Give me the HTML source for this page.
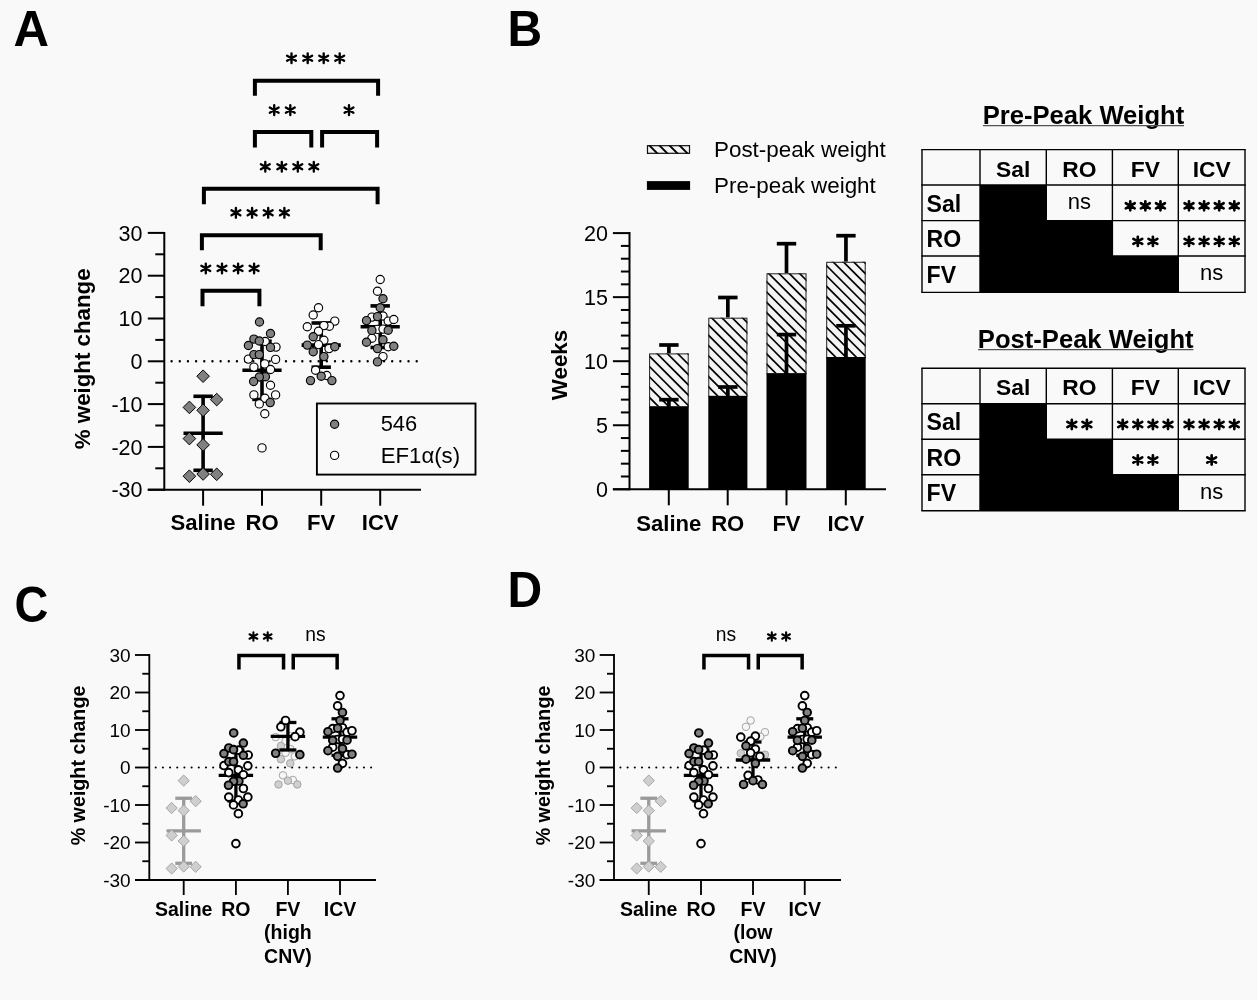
<!DOCTYPE html>
<html><head><meta charset="utf-8"><title>Figure</title>
<style>html,body{margin:0;padding:0;background:#f9f9f9;}svg{display:block;will-change:transform;}text{font-family:"Liberation Sans", sans-serif;fill:#000;}</style></head><body>
<svg width="1257" height="1000" viewBox="0 0 1257 1000">
<rect width="1257" height="1000" fill="#f9f9f9"/>
<text x="13.6" y="45.8" font-size="49.2" font-weight="bold" text-anchor="start" >A</text>
<text transform="translate(507.6 45.8) scale(0.955 1)" font-size="50.3" font-weight="bold">B</text>
<text transform="translate(14.5 621.5) scale(0.945 1)" font-size="49.6" font-weight="bold">C</text>
<text transform="translate(507.6 607.2) scale(0.955 1)" font-size="50.3" font-weight="bold">D</text>
<g id="panelA">
<line x1="164.3" y1="231.9" x2="164.3" y2="490.7" stroke="#000" stroke-width="2" />
<line x1="147.8" y1="489.7" x2="164.3" y2="489.7" stroke="#000" stroke-width="2" />
<text x="142.5" y="497.4" font-size="21.5" font-weight="normal" text-anchor="end" >-30</text>
<line x1="155.3" y1="468.3" x2="164.3" y2="468.3" stroke="#000" stroke-width="2" />
<line x1="147.8" y1="446.9" x2="164.3" y2="446.9" stroke="#000" stroke-width="2" />
<text x="142.5" y="454.6" font-size="21.5" font-weight="normal" text-anchor="end" >-20</text>
<line x1="155.3" y1="425.5" x2="164.3" y2="425.5" stroke="#000" stroke-width="2" />
<line x1="147.8" y1="404.1" x2="164.3" y2="404.1" stroke="#000" stroke-width="2" />
<text x="142.5" y="411.8" font-size="21.5" font-weight="normal" text-anchor="end" >-10</text>
<line x1="155.3" y1="382.7" x2="164.3" y2="382.7" stroke="#000" stroke-width="2" />
<line x1="147.8" y1="361.3" x2="164.3" y2="361.3" stroke="#000" stroke-width="2" />
<text x="142.5" y="369" font-size="21.5" font-weight="normal" text-anchor="end" >0</text>
<line x1="155.3" y1="339.9" x2="164.3" y2="339.9" stroke="#000" stroke-width="2" />
<line x1="147.8" y1="318.5" x2="164.3" y2="318.5" stroke="#000" stroke-width="2" />
<text x="142.5" y="326.2" font-size="21.5" font-weight="normal" text-anchor="end" >10</text>
<line x1="155.3" y1="297.1" x2="164.3" y2="297.1" stroke="#000" stroke-width="2" />
<line x1="147.8" y1="275.7" x2="164.3" y2="275.7" stroke="#000" stroke-width="2" />
<text x="142.5" y="283.4" font-size="21.5" font-weight="normal" text-anchor="end" >20</text>
<line x1="155.3" y1="254.3" x2="164.3" y2="254.3" stroke="#000" stroke-width="2" />
<line x1="147.8" y1="232.9" x2="164.3" y2="232.9" stroke="#000" stroke-width="2" />
<text x="142.5" y="240.6" font-size="21.5" font-weight="normal" text-anchor="end" >30</text>
<line x1="147.8" y1="489.7" x2="421" y2="489.7" stroke="#000" stroke-width="2" />
<line x1="203.1" y1="489.7" x2="203.1" y2="505.7" stroke="#000" stroke-width="2" />
<line x1="262" y1="489.7" x2="262" y2="505.7" stroke="#000" stroke-width="2" />
<line x1="321.2" y1="489.7" x2="321.2" y2="505.7" stroke="#000" stroke-width="2" />
<line x1="380.2" y1="489.7" x2="380.2" y2="505.7" stroke="#000" stroke-width="2" />
<line x1="171.6" y1="361.3" x2="421" y2="361.3" stroke="#000" stroke-width="2.4" stroke-dasharray="0 8.17" stroke-linecap="round"/>
<text transform="translate(89.6 358.8) rotate(-90)" font-size="22.3" font-weight="bold" text-anchor="middle">% weight change</text>
<text x="203.1" y="530" font-size="22.1" font-weight="bold" text-anchor="middle" >Saline</text>
<text x="262" y="530" font-size="22.1" font-weight="bold" text-anchor="middle" >RO</text>
<text x="321.2" y="530" font-size="22.1" font-weight="bold" text-anchor="middle" >FV</text>
<text x="380.2" y="530" font-size="22.1" font-weight="bold" text-anchor="middle" >ICV</text>
<line x1="203.1" y1="396.3" x2="203.1" y2="470.3" stroke="#000" stroke-width="3.6" />
<line x1="193.4" y1="396.3" x2="212.8" y2="396.3" stroke="#000" stroke-width="3.6" />
<line x1="193.4" y1="470.3" x2="212.8" y2="470.3" stroke="#000" stroke-width="3.6" />
<line x1="183.5" y1="433.3" x2="222.7" y2="433.3" stroke="#000" stroke-width="3.6" />
<line x1="262" y1="341.2" x2="262" y2="399.4" stroke="#000" stroke-width="3.6" />
<line x1="252.3" y1="341.2" x2="271.7" y2="341.2" stroke="#000" stroke-width="3.6" />
<line x1="252.3" y1="399.4" x2="271.7" y2="399.4" stroke="#000" stroke-width="3.6" />
<line x1="242.4" y1="370.3" x2="281.6" y2="370.3" stroke="#000" stroke-width="3.6" />
<line x1="321.2" y1="323" x2="321.2" y2="367.2" stroke="#000" stroke-width="3.6" />
<line x1="311.5" y1="323" x2="330.9" y2="323" stroke="#000" stroke-width="3.6" />
<line x1="311.5" y1="367.2" x2="330.9" y2="367.2" stroke="#000" stroke-width="3.6" />
<line x1="301.6" y1="345.1" x2="340.8" y2="345.1" stroke="#000" stroke-width="3.6" />
<line x1="380.2" y1="305.9" x2="380.2" y2="347.5" stroke="#000" stroke-width="3.6" />
<line x1="370.5" y1="305.9" x2="389.9" y2="305.9" stroke="#000" stroke-width="3.6" />
<line x1="370.5" y1="347.5" x2="389.9" y2="347.5" stroke="#000" stroke-width="3.6" />
<line x1="360.6" y1="326.7" x2="399.8" y2="326.7" stroke="#000" stroke-width="3.6" />
<path d="M203.1 369.9L209.4 376.2L203.1 382.5L196.8 376.2Z" fill="#808080" stroke="#000" stroke-width="1"/>
<path d="M216.7 393.3L223 399.6L216.7 405.9L210.4 399.6Z" fill="#808080" stroke="#000" stroke-width="1"/>
<path d="M189.4 401.1L195.7 407.4L189.4 413.7L183.1 407.4Z" fill="#808080" stroke="#000" stroke-width="1"/>
<path d="M203.1 404L209.4 410.3L203.1 416.6L196.8 410.3Z" fill="#808080" stroke="#000" stroke-width="1"/>
<path d="M189.4 432.3L195.7 438.6L189.4 444.9L183.1 438.6Z" fill="#808080" stroke="#000" stroke-width="1"/>
<path d="M203.1 438.6L209.4 444.9L203.1 451.2L196.8 444.9Z" fill="#808080" stroke="#000" stroke-width="1"/>
<path d="M189.4 469.9L195.7 476.2L189.4 482.5L183.1 476.2Z" fill="#808080" stroke="#000" stroke-width="1"/>
<path d="M203.1 467.7L209.4 474L203.1 480.3L196.8 474Z" fill="#808080" stroke="#000" stroke-width="1"/>
<path d="M216.7 468L223 474.3L216.7 480.6L210.4 474.3Z" fill="#808080" stroke="#000" stroke-width="1"/>
<circle cx="265.2" cy="341.5" r="4.12" fill="#fcfcfc" stroke="#000" stroke-width="1.15"/>
<circle cx="276" cy="347.1" r="4.12" fill="#fcfcfc" stroke="#000" stroke-width="1.15"/>
<circle cx="248.4" cy="359.1" r="4.12" fill="#fcfcfc" stroke="#000" stroke-width="1.15"/>
<circle cx="275.6" cy="359.4" r="4.12" fill="#fcfcfc" stroke="#000" stroke-width="1.15"/>
<circle cx="264.8" cy="363.9" r="4.12" fill="#fcfcfc" stroke="#000" stroke-width="1.15"/>
<circle cx="253.9" cy="367.1" r="4.12" fill="#fcfcfc" stroke="#000" stroke-width="1.15"/>
<circle cx="270.5" cy="369.5" r="4.12" fill="#fcfcfc" stroke="#000" stroke-width="1.15"/>
<circle cx="270.5" cy="385.2" r="4.12" fill="#fcfcfc" stroke="#000" stroke-width="1.15"/>
<circle cx="253.9" cy="394.9" r="4.12" fill="#fcfcfc" stroke="#000" stroke-width="1.15"/>
<circle cx="275.6" cy="394.9" r="4.12" fill="#fcfcfc" stroke="#000" stroke-width="1.15"/>
<circle cx="264.9" cy="398.3" r="4.12" fill="#fcfcfc" stroke="#000" stroke-width="1.15"/>
<circle cx="259.3" cy="403.9" r="4.12" fill="#fcfcfc" stroke="#000" stroke-width="1.15"/>
<circle cx="264.8" cy="413.8" r="4.12" fill="#fcfcfc" stroke="#000" stroke-width="1.15"/>
<circle cx="262" cy="447.9" r="4.12" fill="#fcfcfc" stroke="#000" stroke-width="1.15"/>
<circle cx="259.5" cy="322" r="4.12" fill="#808080" stroke="#000" stroke-width="1.15"/>
<circle cx="270.5" cy="333.5" r="4.12" fill="#808080" stroke="#000" stroke-width="1.15"/>
<circle cx="253.9" cy="339.1" r="4.12" fill="#808080" stroke="#000" stroke-width="1.15"/>
<circle cx="259.3" cy="341" r="4.12" fill="#808080" stroke="#000" stroke-width="1.15"/>
<circle cx="248.4" cy="345.5" r="4.12" fill="#808080" stroke="#000" stroke-width="1.15"/>
<circle cx="270.5" cy="347.4" r="4.12" fill="#808080" stroke="#000" stroke-width="1.15"/>
<circle cx="253.9" cy="354.6" r="4.12" fill="#808080" stroke="#000" stroke-width="1.15"/>
<circle cx="259.3" cy="354.6" r="4.12" fill="#808080" stroke="#000" stroke-width="1.15"/>
<circle cx="265.4" cy="376.7" r="4.12" fill="#808080" stroke="#000" stroke-width="1.15"/>
<circle cx="259.3" cy="377" r="4.12" fill="#808080" stroke="#000" stroke-width="1.15"/>
<circle cx="253.6" cy="381.5" r="4.12" fill="#808080" stroke="#000" stroke-width="1.15"/>
<circle cx="270.2" cy="402.6" r="4.12" fill="#808080" stroke="#000" stroke-width="1.15"/>
<circle cx="318.5" cy="307.8" r="4.12" fill="#fcfcfc" stroke="#000" stroke-width="1.15"/>
<circle cx="313.2" cy="315" r="4.12" fill="#fcfcfc" stroke="#000" stroke-width="1.15"/>
<circle cx="334.8" cy="321.1" r="4.12" fill="#fcfcfc" stroke="#000" stroke-width="1.15"/>
<circle cx="307.3" cy="326.7" r="4.12" fill="#fcfcfc" stroke="#000" stroke-width="1.15"/>
<circle cx="329.4" cy="326.2" r="4.12" fill="#fcfcfc" stroke="#000" stroke-width="1.15"/>
<circle cx="323.9" cy="325.6" r="4.12" fill="#fcfcfc" stroke="#000" stroke-width="1.15"/>
<circle cx="318.5" cy="331.2" r="4.12" fill="#fcfcfc" stroke="#000" stroke-width="1.15"/>
<circle cx="323.9" cy="340.3" r="4.12" fill="#fcfcfc" stroke="#000" stroke-width="1.15"/>
<circle cx="318.5" cy="344.6" r="4.12" fill="#fcfcfc" stroke="#000" stroke-width="1.15"/>
<circle cx="329" cy="348.6" r="4.12" fill="#fcfcfc" stroke="#000" stroke-width="1.15"/>
<circle cx="315.6" cy="370.2" r="4.12" fill="#fcfcfc" stroke="#000" stroke-width="1.15"/>
<circle cx="326.8" cy="375.5" r="4.12" fill="#fcfcfc" stroke="#000" stroke-width="1.15"/>
<circle cx="313.2" cy="336.8" r="4.12" fill="#808080" stroke="#000" stroke-width="1.15"/>
<circle cx="307.3" cy="345.1" r="4.12" fill="#808080" stroke="#000" stroke-width="1.15"/>
<circle cx="334.8" cy="346.7" r="4.12" fill="#808080" stroke="#000" stroke-width="1.15"/>
<circle cx="313.2" cy="351.8" r="4.12" fill="#808080" stroke="#000" stroke-width="1.15"/>
<circle cx="323.9" cy="356.6" r="4.12" fill="#808080" stroke="#000" stroke-width="1.15"/>
<circle cx="321.2" cy="376.3" r="4.12" fill="#808080" stroke="#000" stroke-width="1.15"/>
<circle cx="310.5" cy="380.6" r="4.12" fill="#808080" stroke="#000" stroke-width="1.15"/>
<circle cx="331.9" cy="380.6" r="4.12" fill="#808080" stroke="#000" stroke-width="1.15"/>
<circle cx="380.2" cy="279.5" r="4.12" fill="#fcfcfc" stroke="#000" stroke-width="1.15"/>
<circle cx="377.5" cy="291.2" r="4.12" fill="#fcfcfc" stroke="#000" stroke-width="1.15"/>
<circle cx="371.9" cy="317.1" r="4.12" fill="#fcfcfc" stroke="#000" stroke-width="1.15"/>
<circle cx="383" cy="316" r="4.12" fill="#fcfcfc" stroke="#000" stroke-width="1.15"/>
<circle cx="388.2" cy="321.1" r="4.12" fill="#fcfcfc" stroke="#000" stroke-width="1.15"/>
<circle cx="393.8" cy="319.5" r="4.12" fill="#fcfcfc" stroke="#000" stroke-width="1.15"/>
<circle cx="377.5" cy="329.4" r="4.12" fill="#fcfcfc" stroke="#000" stroke-width="1.15"/>
<circle cx="383" cy="329.1" r="4.12" fill="#fcfcfc" stroke="#000" stroke-width="1.15"/>
<circle cx="371.9" cy="338.2" r="4.12" fill="#fcfcfc" stroke="#000" stroke-width="1.15"/>
<circle cx="388.2" cy="346.7" r="4.12" fill="#fcfcfc" stroke="#000" stroke-width="1.15"/>
<circle cx="383" cy="356.6" r="4.12" fill="#fcfcfc" stroke="#000" stroke-width="1.15"/>
<circle cx="383" cy="298.7" r="4.12" fill="#808080" stroke="#000" stroke-width="1.15"/>
<circle cx="380.2" cy="307.8" r="4.12" fill="#808080" stroke="#000" stroke-width="1.15"/>
<circle cx="377.5" cy="316.6" r="4.12" fill="#808080" stroke="#000" stroke-width="1.15"/>
<circle cx="366.5" cy="320.6" r="4.12" fill="#808080" stroke="#000" stroke-width="1.15"/>
<circle cx="371.9" cy="330.4" r="4.12" fill="#808080" stroke="#000" stroke-width="1.15"/>
<circle cx="388.2" cy="330.2" r="4.12" fill="#808080" stroke="#000" stroke-width="1.15"/>
<circle cx="383" cy="339.8" r="4.12" fill="#808080" stroke="#000" stroke-width="1.15"/>
<circle cx="366.5" cy="342.2" r="4.12" fill="#808080" stroke="#000" stroke-width="1.15"/>
<circle cx="393.8" cy="346.2" r="4.12" fill="#808080" stroke="#000" stroke-width="1.15"/>
<circle cx="377.5" cy="348.6" r="4.12" fill="#808080" stroke="#000" stroke-width="1.15"/>
<circle cx="377.5" cy="361.9" r="4.12" fill="#808080" stroke="#000" stroke-width="1.15"/>
<path d="M291.5 53.35V63.05M287.08 55.65L295.92 60.75M295.92 55.65L287.08 60.75" stroke="#000" stroke-width="2.35" stroke-linecap="round" fill="none"/>
<path d="M307.7 53.35V63.05M303.28 55.65L312.12 60.75M312.12 55.65L303.28 60.75" stroke="#000" stroke-width="2.35" stroke-linecap="round" fill="none"/>
<path d="M323.7 53.35V63.05M319.28 55.65L328.12 60.75M328.12 55.65L319.28 60.75" stroke="#000" stroke-width="2.35" stroke-linecap="round" fill="none"/>
<path d="M339.7 53.35V63.05M335.28 55.65L344.12 60.75M344.12 55.65L335.28 60.75" stroke="#000" stroke-width="2.35" stroke-linecap="round" fill="none"/>
<path d="M254.9 95.8V80.8H378.1V95.8" stroke="#000" stroke-width="4" fill="none" stroke-linejoin="miter"/>
<path d="M274.2 105.25V114.95M269.78 107.55L278.62 112.65M278.62 107.55L269.78 112.65" stroke="#000" stroke-width="2.35" stroke-linecap="round" fill="none"/>
<path d="M290.3 105.25V114.95M285.88 107.55L294.72 112.65M294.72 107.55L285.88 112.65" stroke="#000" stroke-width="2.35" stroke-linecap="round" fill="none"/>
<path d="M349 105.25V114.95M344.58 107.55L353.42 112.65M353.42 107.55L344.58 112.65" stroke="#000" stroke-width="2.35" stroke-linecap="round" fill="none"/>
<path d="M254.9 147.5V132.1H311.3V147.5" stroke="#000" stroke-width="4" fill="none" stroke-linejoin="miter"/>
<path d="M322.1 147.5V132.1H377.1V147.5" stroke="#000" stroke-width="4" fill="none" stroke-linejoin="miter"/>
<path d="M265.3 161.85V171.55M260.88 164.15L269.72 169.25M269.72 164.15L260.88 169.25" stroke="#000" stroke-width="2.35" stroke-linecap="round" fill="none"/>
<path d="M281.8 161.85V171.55M277.38 164.15L286.22 169.25M286.22 164.15L277.38 169.25" stroke="#000" stroke-width="2.35" stroke-linecap="round" fill="none"/>
<path d="M297.8 161.85V171.55M293.38 164.15L302.22 169.25M302.22 164.15L293.38 169.25" stroke="#000" stroke-width="2.35" stroke-linecap="round" fill="none"/>
<path d="M313.8 161.85V171.55M309.38 164.15L318.22 169.25M318.22 164.15L309.38 169.25" stroke="#000" stroke-width="2.35" stroke-linecap="round" fill="none"/>
<path d="M203.9 204.3V188.8H377.6V204.3" stroke="#000" stroke-width="4" fill="none" stroke-linejoin="miter"/>
<path d="M235.9 207.95V217.65M231.48 210.25L240.32 215.35M240.32 210.25L231.48 215.35" stroke="#000" stroke-width="2.35" stroke-linecap="round" fill="none"/>
<path d="M252.1 207.95V217.65M247.68 210.25L256.52 215.35M256.52 210.25L247.68 215.35" stroke="#000" stroke-width="2.35" stroke-linecap="round" fill="none"/>
<path d="M268.2 207.95V217.65M263.78 210.25L272.62 215.35M272.62 210.25L263.78 215.35" stroke="#000" stroke-width="2.35" stroke-linecap="round" fill="none"/>
<path d="M284.4 207.95V217.65M279.98 210.25L288.82 215.35M288.82 210.25L279.98 215.35" stroke="#000" stroke-width="2.35" stroke-linecap="round" fill="none"/>
<path d="M201.9 250.2V235.2H320.7V250.2" stroke="#000" stroke-width="4" fill="none" stroke-linejoin="miter"/>
<path d="M205.8 263.55V273.25M201.38 265.85L210.22 270.95M210.22 265.85L201.38 270.95" stroke="#000" stroke-width="2.35" stroke-linecap="round" fill="none"/>
<path d="M222 263.55V273.25M217.58 265.85L226.42 270.95M226.42 265.85L217.58 270.95" stroke="#000" stroke-width="2.35" stroke-linecap="round" fill="none"/>
<path d="M238.1 263.55V273.25M233.68 265.85L242.52 270.95M242.52 265.85L233.68 270.95" stroke="#000" stroke-width="2.35" stroke-linecap="round" fill="none"/>
<path d="M254.1 263.55V273.25M249.68 265.85L258.52 270.95M258.52 265.85L249.68 270.95" stroke="#000" stroke-width="2.35" stroke-linecap="round" fill="none"/>
<path d="M202.5 306.2V290.8H259.4V306.2" stroke="#000" stroke-width="4" fill="none" stroke-linejoin="miter"/>
<rect x="316.9" y="403.5" width="158.6" height="71.1" fill="#f9f9f9" stroke="#000" stroke-width="1.9"/>
<circle cx="334.6" cy="424.2" r="4.12" fill="#808080" stroke="#000" stroke-width="1.15"/>
<circle cx="334.6" cy="455.4" r="4.12" fill="#fcfcfc" stroke="#000" stroke-width="1.15"/>
<text x="380.7" y="431.1" font-size="21.9" font-weight="normal" text-anchor="start" >546</text>
<text x="380.7" y="462.6" font-size="22.2" font-weight="normal" text-anchor="start" >EF1α(s)</text>
</g>
<g id="panelB">
<defs>
<clipPath id="cb0"><rect x="649.1" y="353.4" width="39.6" height="53"/></clipPath>
<clipPath id="cb1"><rect x="708.3" y="317.7" width="39.1" height="78.2"/></clipPath>
<clipPath id="cb2"><rect x="766.5" y="273.3" width="40" height="100"/></clipPath>
<clipPath id="cb3"><rect x="826.2" y="261.8" width="39.5" height="95.2"/></clipPath>
<clipPath id="cbl"><rect x="646.9" y="145.1" width="43.2" height="8.8"/></clipPath>
</defs>
<line x1="629.5" y1="232.1" x2="629.5" y2="490.3" stroke="#000" stroke-width="2" />
<line x1="612.9" y1="489.3" x2="629.5" y2="489.3" stroke="#000" stroke-width="2" />
<text x="607.9" y="497" font-size="21.5" font-weight="normal" text-anchor="end" >0</text>
<line x1="620.9" y1="476.49" x2="629.5" y2="476.49" stroke="#000" stroke-width="2" />
<line x1="620.9" y1="463.68" x2="629.5" y2="463.68" stroke="#000" stroke-width="2" />
<line x1="620.9" y1="450.87" x2="629.5" y2="450.87" stroke="#000" stroke-width="2" />
<line x1="620.9" y1="438.06" x2="629.5" y2="438.06" stroke="#000" stroke-width="2" />
<line x1="612.9" y1="425.25" x2="629.5" y2="425.25" stroke="#000" stroke-width="2" />
<text x="607.9" y="432.95" font-size="21.5" font-weight="normal" text-anchor="end" >5</text>
<line x1="620.9" y1="412.44" x2="629.5" y2="412.44" stroke="#000" stroke-width="2" />
<line x1="620.9" y1="399.63" x2="629.5" y2="399.63" stroke="#000" stroke-width="2" />
<line x1="620.9" y1="386.82" x2="629.5" y2="386.82" stroke="#000" stroke-width="2" />
<line x1="620.9" y1="374.01" x2="629.5" y2="374.01" stroke="#000" stroke-width="2" />
<line x1="612.9" y1="361.2" x2="629.5" y2="361.2" stroke="#000" stroke-width="2" />
<text x="607.9" y="368.9" font-size="21.5" font-weight="normal" text-anchor="end" >10</text>
<line x1="620.9" y1="348.39" x2="629.5" y2="348.39" stroke="#000" stroke-width="2" />
<line x1="620.9" y1="335.58" x2="629.5" y2="335.58" stroke="#000" stroke-width="2" />
<line x1="620.9" y1="322.77" x2="629.5" y2="322.77" stroke="#000" stroke-width="2" />
<line x1="620.9" y1="309.96" x2="629.5" y2="309.96" stroke="#000" stroke-width="2" />
<line x1="612.9" y1="297.15" x2="629.5" y2="297.15" stroke="#000" stroke-width="2" />
<text x="607.9" y="304.85" font-size="21.5" font-weight="normal" text-anchor="end" >15</text>
<line x1="620.9" y1="284.34" x2="629.5" y2="284.34" stroke="#000" stroke-width="2" />
<line x1="620.9" y1="271.53" x2="629.5" y2="271.53" stroke="#000" stroke-width="2" />
<line x1="620.9" y1="258.72" x2="629.5" y2="258.72" stroke="#000" stroke-width="2" />
<line x1="620.9" y1="245.91" x2="629.5" y2="245.91" stroke="#000" stroke-width="2" />
<line x1="612.9" y1="233.1" x2="629.5" y2="233.1" stroke="#000" stroke-width="2" />
<text x="607.9" y="240.8" font-size="21.5" font-weight="normal" text-anchor="end" >20</text>
<line x1="612.9" y1="489.3" x2="886" y2="489.3" stroke="#000" stroke-width="2" />
<line x1="668.8" y1="489.3" x2="668.8" y2="505.3" stroke="#000" stroke-width="2" />
<line x1="727.7" y1="489.3" x2="727.7" y2="505.3" stroke="#000" stroke-width="2" />
<line x1="786.5" y1="489.3" x2="786.5" y2="505.3" stroke="#000" stroke-width="2" />
<line x1="845.8" y1="489.3" x2="845.8" y2="505.3" stroke="#000" stroke-width="2" />
<text x="668.8" y="530.8" font-size="22.1" font-weight="bold" text-anchor="middle" >Saline</text>
<text x="727.7" y="530.8" font-size="22.1" font-weight="bold" text-anchor="middle" >RO</text>
<text x="786.5" y="530.8" font-size="22.1" font-weight="bold" text-anchor="middle" >FV</text>
<text x="845.8" y="530.8" font-size="22.1" font-weight="bold" text-anchor="middle" >ICV</text>
<text transform="translate(567 365) rotate(-90)" font-size="22.3" font-weight="bold" text-anchor="middle">Weeks</text>
<line x1="668.9" y1="345" x2="668.9" y2="353.4" stroke="#000" stroke-width="3.7" />
<line x1="659.2" y1="345" x2="678.6" y2="345" stroke="#000" stroke-width="3.7" />
<rect x="649.1" y="353.4" width="39.6" height="53" fill="#f4f4f4"/>
<g clip-path="url(#cb0)">
<line x1="647.1" y1="477.5" x2="690.7" y2="521.1" stroke="#000" stroke-width="1.7" />
<line x1="647.1" y1="467.2" x2="690.7" y2="510.8" stroke="#000" stroke-width="1.7" />
<line x1="647.1" y1="456.9" x2="690.7" y2="500.5" stroke="#000" stroke-width="1.7" />
<line x1="647.1" y1="446.6" x2="690.7" y2="490.2" stroke="#000" stroke-width="1.7" />
<line x1="647.1" y1="436.3" x2="690.7" y2="479.9" stroke="#000" stroke-width="1.7" />
<line x1="647.1" y1="426" x2="690.7" y2="469.6" stroke="#000" stroke-width="1.7" />
<line x1="647.1" y1="415.7" x2="690.7" y2="459.3" stroke="#000" stroke-width="1.7" />
<line x1="647.1" y1="405.4" x2="690.7" y2="449" stroke="#000" stroke-width="1.7" />
<line x1="647.1" y1="395.1" x2="690.7" y2="438.7" stroke="#000" stroke-width="1.7" />
<line x1="647.1" y1="384.8" x2="690.7" y2="428.4" stroke="#000" stroke-width="1.7" />
<line x1="647.1" y1="374.5" x2="690.7" y2="418.1" stroke="#000" stroke-width="1.7" />
<line x1="647.1" y1="364.2" x2="690.7" y2="407.8" stroke="#000" stroke-width="1.7" />
<line x1="647.1" y1="353.9" x2="690.7" y2="397.5" stroke="#000" stroke-width="1.7" />
<line x1="647.1" y1="343.6" x2="690.7" y2="387.2" stroke="#000" stroke-width="1.7" />
<line x1="647.1" y1="333.3" x2="690.7" y2="376.9" stroke="#000" stroke-width="1.7" />
<line x1="647.1" y1="323" x2="690.7" y2="366.6" stroke="#000" stroke-width="1.7" />
<line x1="647.1" y1="312.7" x2="690.7" y2="356.3" stroke="#000" stroke-width="1.7" />
<line x1="647.1" y1="302.4" x2="690.7" y2="346" stroke="#000" stroke-width="1.7" />
</g>
<rect x="649.6" y="353.9" width="38.6" height="53" fill="none" stroke="#222" stroke-width="1"/>
<rect x="649.1" y="406.4" width="39.6" height="82.9" fill="#000"/>
<line x1="668.9" y1="399.7" x2="668.9" y2="407.4" stroke="#000" stroke-width="3.7" />
<line x1="659.2" y1="399.7" x2="678.6" y2="399.7" stroke="#000" stroke-width="3.7" />
<line x1="727.85" y1="297.5" x2="727.85" y2="317.7" stroke="#000" stroke-width="3.7" />
<line x1="718.15" y1="297.5" x2="737.55" y2="297.5" stroke="#000" stroke-width="3.7" />
<rect x="708.3" y="317.7" width="39.1" height="78.2" fill="#f4f4f4"/>
<g clip-path="url(#cb1)">
<line x1="706.3" y1="467" x2="749.4" y2="510.1" stroke="#000" stroke-width="1.7" />
<line x1="706.3" y1="456.7" x2="749.4" y2="499.8" stroke="#000" stroke-width="1.7" />
<line x1="706.3" y1="446.4" x2="749.4" y2="489.5" stroke="#000" stroke-width="1.7" />
<line x1="706.3" y1="436.1" x2="749.4" y2="479.2" stroke="#000" stroke-width="1.7" />
<line x1="706.3" y1="425.8" x2="749.4" y2="468.9" stroke="#000" stroke-width="1.7" />
<line x1="706.3" y1="415.5" x2="749.4" y2="458.6" stroke="#000" stroke-width="1.7" />
<line x1="706.3" y1="405.2" x2="749.4" y2="448.3" stroke="#000" stroke-width="1.7" />
<line x1="706.3" y1="394.9" x2="749.4" y2="438" stroke="#000" stroke-width="1.7" />
<line x1="706.3" y1="384.6" x2="749.4" y2="427.7" stroke="#000" stroke-width="1.7" />
<line x1="706.3" y1="374.3" x2="749.4" y2="417.4" stroke="#000" stroke-width="1.7" />
<line x1="706.3" y1="364" x2="749.4" y2="407.1" stroke="#000" stroke-width="1.7" />
<line x1="706.3" y1="353.7" x2="749.4" y2="396.8" stroke="#000" stroke-width="1.7" />
<line x1="706.3" y1="343.4" x2="749.4" y2="386.5" stroke="#000" stroke-width="1.7" />
<line x1="706.3" y1="333.1" x2="749.4" y2="376.2" stroke="#000" stroke-width="1.7" />
<line x1="706.3" y1="322.8" x2="749.4" y2="365.9" stroke="#000" stroke-width="1.7" />
<line x1="706.3" y1="312.5" x2="749.4" y2="355.6" stroke="#000" stroke-width="1.7" />
<line x1="706.3" y1="302.2" x2="749.4" y2="345.3" stroke="#000" stroke-width="1.7" />
<line x1="706.3" y1="291.9" x2="749.4" y2="335" stroke="#000" stroke-width="1.7" />
<line x1="706.3" y1="281.6" x2="749.4" y2="324.7" stroke="#000" stroke-width="1.7" />
<line x1="706.3" y1="271.3" x2="749.4" y2="314.4" stroke="#000" stroke-width="1.7" />
</g>
<rect x="708.8" y="318.2" width="38.1" height="78.2" fill="none" stroke="#222" stroke-width="1"/>
<rect x="708.3" y="395.9" width="39.1" height="93.4" fill="#000"/>
<line x1="727.85" y1="387" x2="727.85" y2="396.9" stroke="#000" stroke-width="3.7" />
<line x1="718.15" y1="387" x2="737.55" y2="387" stroke="#000" stroke-width="3.7" />
<line x1="786.5" y1="243.7" x2="786.5" y2="273.3" stroke="#000" stroke-width="3.7" />
<line x1="776.8" y1="243.7" x2="796.2" y2="243.7" stroke="#000" stroke-width="3.7" />
<rect x="766.5" y="273.3" width="40" height="100" fill="#f4f4f4"/>
<g clip-path="url(#cb2)">
<line x1="764.5" y1="444.4" x2="808.5" y2="488.4" stroke="#000" stroke-width="1.7" />
<line x1="764.5" y1="434.1" x2="808.5" y2="478.1" stroke="#000" stroke-width="1.7" />
<line x1="764.5" y1="423.8" x2="808.5" y2="467.8" stroke="#000" stroke-width="1.7" />
<line x1="764.5" y1="413.5" x2="808.5" y2="457.5" stroke="#000" stroke-width="1.7" />
<line x1="764.5" y1="403.2" x2="808.5" y2="447.2" stroke="#000" stroke-width="1.7" />
<line x1="764.5" y1="392.9" x2="808.5" y2="436.9" stroke="#000" stroke-width="1.7" />
<line x1="764.5" y1="382.6" x2="808.5" y2="426.6" stroke="#000" stroke-width="1.7" />
<line x1="764.5" y1="372.3" x2="808.5" y2="416.3" stroke="#000" stroke-width="1.7" />
<line x1="764.5" y1="362" x2="808.5" y2="406" stroke="#000" stroke-width="1.7" />
<line x1="764.5" y1="351.7" x2="808.5" y2="395.7" stroke="#000" stroke-width="1.7" />
<line x1="764.5" y1="341.4" x2="808.5" y2="385.4" stroke="#000" stroke-width="1.7" />
<line x1="764.5" y1="331.1" x2="808.5" y2="375.1" stroke="#000" stroke-width="1.7" />
<line x1="764.5" y1="320.8" x2="808.5" y2="364.8" stroke="#000" stroke-width="1.7" />
<line x1="764.5" y1="310.5" x2="808.5" y2="354.5" stroke="#000" stroke-width="1.7" />
<line x1="764.5" y1="300.2" x2="808.5" y2="344.2" stroke="#000" stroke-width="1.7" />
<line x1="764.5" y1="289.9" x2="808.5" y2="333.9" stroke="#000" stroke-width="1.7" />
<line x1="764.5" y1="279.6" x2="808.5" y2="323.6" stroke="#000" stroke-width="1.7" />
<line x1="764.5" y1="269.3" x2="808.5" y2="313.3" stroke="#000" stroke-width="1.7" />
<line x1="764.5" y1="259" x2="808.5" y2="303" stroke="#000" stroke-width="1.7" />
<line x1="764.5" y1="248.7" x2="808.5" y2="292.7" stroke="#000" stroke-width="1.7" />
<line x1="764.5" y1="238.4" x2="808.5" y2="282.4" stroke="#000" stroke-width="1.7" />
<line x1="764.5" y1="228.1" x2="808.5" y2="272.1" stroke="#000" stroke-width="1.7" />
</g>
<rect x="767" y="273.8" width="39" height="100" fill="none" stroke="#222" stroke-width="1"/>
<rect x="766.5" y="373.3" width="40" height="116" fill="#000"/>
<line x1="786.5" y1="334.6" x2="786.5" y2="374.3" stroke="#000" stroke-width="3.7" />
<line x1="776.8" y1="334.6" x2="796.2" y2="334.6" stroke="#000" stroke-width="3.7" />
<line x1="845.95" y1="235.7" x2="845.95" y2="261.8" stroke="#000" stroke-width="3.7" />
<line x1="836.25" y1="235.7" x2="855.65" y2="235.7" stroke="#000" stroke-width="3.7" />
<rect x="826.2" y="261.8" width="39.5" height="95.2" fill="#f4f4f4"/>
<g clip-path="url(#cb3)">
<line x1="824.2" y1="428.1" x2="867.7" y2="471.6" stroke="#000" stroke-width="1.7" />
<line x1="824.2" y1="417.8" x2="867.7" y2="461.3" stroke="#000" stroke-width="1.7" />
<line x1="824.2" y1="407.5" x2="867.7" y2="451" stroke="#000" stroke-width="1.7" />
<line x1="824.2" y1="397.2" x2="867.7" y2="440.7" stroke="#000" stroke-width="1.7" />
<line x1="824.2" y1="386.9" x2="867.7" y2="430.4" stroke="#000" stroke-width="1.7" />
<line x1="824.2" y1="376.6" x2="867.7" y2="420.1" stroke="#000" stroke-width="1.7" />
<line x1="824.2" y1="366.3" x2="867.7" y2="409.8" stroke="#000" stroke-width="1.7" />
<line x1="824.2" y1="356" x2="867.7" y2="399.5" stroke="#000" stroke-width="1.7" />
<line x1="824.2" y1="345.7" x2="867.7" y2="389.2" stroke="#000" stroke-width="1.7" />
<line x1="824.2" y1="335.4" x2="867.7" y2="378.9" stroke="#000" stroke-width="1.7" />
<line x1="824.2" y1="325.1" x2="867.7" y2="368.6" stroke="#000" stroke-width="1.7" />
<line x1="824.2" y1="314.8" x2="867.7" y2="358.3" stroke="#000" stroke-width="1.7" />
<line x1="824.2" y1="304.5" x2="867.7" y2="348" stroke="#000" stroke-width="1.7" />
<line x1="824.2" y1="294.2" x2="867.7" y2="337.7" stroke="#000" stroke-width="1.7" />
<line x1="824.2" y1="283.9" x2="867.7" y2="327.4" stroke="#000" stroke-width="1.7" />
<line x1="824.2" y1="273.6" x2="867.7" y2="317.1" stroke="#000" stroke-width="1.7" />
<line x1="824.2" y1="263.3" x2="867.7" y2="306.8" stroke="#000" stroke-width="1.7" />
<line x1="824.2" y1="253" x2="867.7" y2="296.5" stroke="#000" stroke-width="1.7" />
<line x1="824.2" y1="242.7" x2="867.7" y2="286.2" stroke="#000" stroke-width="1.7" />
<line x1="824.2" y1="232.4" x2="867.7" y2="275.9" stroke="#000" stroke-width="1.7" />
<line x1="824.2" y1="222.1" x2="867.7" y2="265.6" stroke="#000" stroke-width="1.7" />
<line x1="824.2" y1="211.8" x2="867.7" y2="255.3" stroke="#000" stroke-width="1.7" />
</g>
<rect x="826.7" y="262.3" width="38.5" height="95.2" fill="none" stroke="#222" stroke-width="1"/>
<rect x="826.2" y="357" width="39.5" height="132.3" fill="#000"/>
<line x1="845.95" y1="325.8" x2="845.95" y2="358" stroke="#000" stroke-width="3.7" />
<line x1="836.25" y1="325.8" x2="855.65" y2="325.8" stroke="#000" stroke-width="3.7" />
<rect x="646.9" y="145.1" width="43.2" height="8.8" fill="#f4f4f4"/>
<g clip-path="url(#cbl)">
<line x1="636.93" y1="143.1" x2="649.73" y2="155.9" stroke="#000" stroke-width="1.9" />
<line x1="647" y1="143.1" x2="659.8" y2="155.9" stroke="#000" stroke-width="1.9" />
<line x1="657.07" y1="143.1" x2="669.87" y2="155.9" stroke="#000" stroke-width="1.9" />
<line x1="667.14" y1="143.1" x2="679.94" y2="155.9" stroke="#000" stroke-width="1.9" />
<line x1="677.21" y1="143.1" x2="690.01" y2="155.9" stroke="#000" stroke-width="1.9" />
<line x1="687.28" y1="143.1" x2="700.08" y2="155.9" stroke="#000" stroke-width="1.9" />
<line x1="697.35" y1="143.1" x2="710.15" y2="155.9" stroke="#000" stroke-width="1.9" />
</g>
<rect x="647.5" y="145.7" width="42.0" height="7.6" fill="none" stroke="#111" stroke-width="1.2"/>
<rect x="646.9" y="181.1" width="43.2" height="8.8" fill="#000"/>
<text x="714" y="157.2" font-size="22.4" font-weight="normal" text-anchor="start" >Post-peak weight</text>
<text x="714" y="193" font-size="22.4" font-weight="normal" text-anchor="start" >Pre-peak weight</text>
</g>
<text x="1083.5" y="124" font-size="25.6" font-weight="bold" text-anchor="middle" >Pre-Peak Weight</text>
<line x1="983" y1="125.6" x2="1184" y2="125.6" stroke="#555" stroke-width="1.1" />
<rect x="980" y="185" width="66.3" height="35.6" fill="#000"/>
<rect x="980" y="220.6" width="132.4" height="35.4" fill="#000"/>
<rect x="980" y="256" width="198.3" height="36.4" fill="#000"/>
<line x1="921.3" y1="149.6" x2="1245.7" y2="149.6" stroke="#000" stroke-width="1.4" />
<line x1="921.3" y1="185" x2="1245.7" y2="185" stroke="#000" stroke-width="1.4" />
<line x1="921.3" y1="220.6" x2="1245.7" y2="220.6" stroke="#000" stroke-width="1.4" />
<line x1="921.3" y1="256" x2="1245.7" y2="256" stroke="#000" stroke-width="1.4" />
<line x1="921.3" y1="292.4" x2="1245.7" y2="292.4" stroke="#000" stroke-width="1.4" />
<line x1="922" y1="149.6" x2="922" y2="292.4" stroke="#000" stroke-width="1.4" />
<line x1="980" y1="149.6" x2="980" y2="292.4" stroke="#000" stroke-width="1.4" />
<line x1="1046.3" y1="149.6" x2="1046.3" y2="292.4" stroke="#000" stroke-width="1.4" />
<line x1="1112.4" y1="149.6" x2="1112.4" y2="292.4" stroke="#000" stroke-width="1.4" />
<line x1="1178.3" y1="149.6" x2="1178.3" y2="292.4" stroke="#000" stroke-width="1.4" />
<line x1="1245" y1="149.6" x2="1245" y2="292.4" stroke="#000" stroke-width="1.4" />
<text x="1013.15" y="176.5" font-size="22.8" font-weight="bold" text-anchor="middle" >Sal</text>
<text x="1079.35" y="176.5" font-size="22.8" font-weight="bold" text-anchor="middle" >RO</text>
<text x="1145.35" y="176.5" font-size="22.8" font-weight="bold" text-anchor="middle" >FV</text>
<text x="1211.65" y="176.5" font-size="22.8" font-weight="bold" text-anchor="middle" >ICV</text>
<text x="926.6" y="211.5" font-size="23.1" font-weight="bold" text-anchor="start" >Sal</text>
<text x="926.6" y="247.1" font-size="23.1" font-weight="bold" text-anchor="start" >RO</text>
<text x="926.6" y="282.5" font-size="23.1" font-weight="bold" text-anchor="start" >FV</text>
<text x="1079.35" y="209.2" font-size="22" font-weight="normal" text-anchor="middle" >ns</text>
<path d="M1130.25 201.25V210.35M1125.83 203.25L1134.67 208.35M1134.67 203.25L1125.83 208.35" stroke="#000" stroke-width="2.7" stroke-linecap="round" fill="none"/>
<path d="M1145.35 201.25V210.35M1140.93 203.25L1149.77 208.35M1149.77 203.25L1140.93 208.35" stroke="#000" stroke-width="2.7" stroke-linecap="round" fill="none"/>
<path d="M1160.45 201.25V210.35M1156.03 203.25L1164.87 208.35M1164.87 203.25L1156.03 208.35" stroke="#000" stroke-width="2.7" stroke-linecap="round" fill="none"/>
<path d="M1189 201.25V210.35M1184.58 203.25L1193.42 208.35M1193.42 203.25L1184.58 208.35" stroke="#000" stroke-width="2.7" stroke-linecap="round" fill="none"/>
<path d="M1204.1 201.25V210.35M1199.68 203.25L1208.52 208.35M1208.52 203.25L1199.68 208.35" stroke="#000" stroke-width="2.7" stroke-linecap="round" fill="none"/>
<path d="M1219.2 201.25V210.35M1214.78 203.25L1223.62 208.35M1223.62 203.25L1214.78 208.35" stroke="#000" stroke-width="2.7" stroke-linecap="round" fill="none"/>
<path d="M1234.3 201.25V210.35M1229.88 203.25L1238.72 208.35M1238.72 203.25L1229.88 208.35" stroke="#000" stroke-width="2.7" stroke-linecap="round" fill="none"/>
<path d="M1137.8 236.85V245.95M1133.38 238.85L1142.22 243.95M1142.22 238.85L1133.38 243.95" stroke="#000" stroke-width="2.7" stroke-linecap="round" fill="none"/>
<path d="M1152.9 236.85V245.95M1148.48 238.85L1157.32 243.95M1157.32 238.85L1148.48 243.95" stroke="#000" stroke-width="2.7" stroke-linecap="round" fill="none"/>
<path d="M1189 236.85V245.95M1184.58 238.85L1193.42 243.95M1193.42 238.85L1184.58 243.95" stroke="#000" stroke-width="2.7" stroke-linecap="round" fill="none"/>
<path d="M1204.1 236.85V245.95M1199.68 238.85L1208.52 243.95M1208.52 238.85L1199.68 243.95" stroke="#000" stroke-width="2.7" stroke-linecap="round" fill="none"/>
<path d="M1219.2 236.85V245.95M1214.78 238.85L1223.62 243.95M1223.62 238.85L1214.78 243.95" stroke="#000" stroke-width="2.7" stroke-linecap="round" fill="none"/>
<path d="M1234.3 236.85V245.95M1229.88 238.85L1238.72 243.95M1238.72 238.85L1229.88 243.95" stroke="#000" stroke-width="2.7" stroke-linecap="round" fill="none"/>
<text x="1211.65" y="280.2" font-size="22" font-weight="normal" text-anchor="middle" >ns</text>
<text x="1085.7" y="348.3" font-size="25.6" font-weight="bold" text-anchor="middle" >Post-Peak Weight</text>
<line x1="978" y1="349.6" x2="1193.4" y2="349.6" stroke="#555" stroke-width="1.1" />
<rect x="980" y="403.7" width="66.3" height="35.5" fill="#000"/>
<rect x="980" y="439.2" width="132.4" height="35.5" fill="#000"/>
<rect x="980" y="474.7" width="198.3" height="36" fill="#000"/>
<line x1="921.3" y1="368.2" x2="1245.7" y2="368.2" stroke="#000" stroke-width="1.4" />
<line x1="921.3" y1="403.7" x2="1245.7" y2="403.7" stroke="#000" stroke-width="1.4" />
<line x1="921.3" y1="439.2" x2="1245.7" y2="439.2" stroke="#000" stroke-width="1.4" />
<line x1="921.3" y1="474.7" x2="1245.7" y2="474.7" stroke="#000" stroke-width="1.4" />
<line x1="921.3" y1="510.7" x2="1245.7" y2="510.7" stroke="#000" stroke-width="1.4" />
<line x1="922" y1="368.2" x2="922" y2="510.7" stroke="#000" stroke-width="1.4" />
<line x1="980" y1="368.2" x2="980" y2="510.7" stroke="#000" stroke-width="1.4" />
<line x1="1046.3" y1="368.2" x2="1046.3" y2="510.7" stroke="#000" stroke-width="1.4" />
<line x1="1112.4" y1="368.2" x2="1112.4" y2="510.7" stroke="#000" stroke-width="1.4" />
<line x1="1178.3" y1="368.2" x2="1178.3" y2="510.7" stroke="#000" stroke-width="1.4" />
<line x1="1245" y1="368.2" x2="1245" y2="510.7" stroke="#000" stroke-width="1.4" />
<text x="1013.15" y="395.18" font-size="22.8" font-weight="bold" text-anchor="middle" >Sal</text>
<text x="1079.35" y="395.18" font-size="22.8" font-weight="bold" text-anchor="middle" >RO</text>
<text x="1145.35" y="395.18" font-size="22.8" font-weight="bold" text-anchor="middle" >FV</text>
<text x="1211.65" y="395.18" font-size="22.8" font-weight="bold" text-anchor="middle" >ICV</text>
<text x="926.6" y="430.2" font-size="23.1" font-weight="bold" text-anchor="start" >Sal</text>
<text x="926.6" y="465.7" font-size="23.1" font-weight="bold" text-anchor="start" >RO</text>
<text x="926.6" y="501.2" font-size="23.1" font-weight="bold" text-anchor="start" >FV</text>
<path d="M1071.8 419.95V429.05M1067.38 421.95L1076.22 427.05M1076.22 421.95L1067.38 427.05" stroke="#000" stroke-width="2.7" stroke-linecap="round" fill="none"/>
<path d="M1086.9 419.95V429.05M1082.48 421.95L1091.32 427.05M1091.32 421.95L1082.48 427.05" stroke="#000" stroke-width="2.7" stroke-linecap="round" fill="none"/>
<path d="M1122.7 419.95V429.05M1118.28 421.95L1127.12 427.05M1127.12 421.95L1118.28 427.05" stroke="#000" stroke-width="2.7" stroke-linecap="round" fill="none"/>
<path d="M1137.8 419.95V429.05M1133.38 421.95L1142.22 427.05M1142.22 421.95L1133.38 427.05" stroke="#000" stroke-width="2.7" stroke-linecap="round" fill="none"/>
<path d="M1152.9 419.95V429.05M1148.48 421.95L1157.32 427.05M1157.32 421.95L1148.48 427.05" stroke="#000" stroke-width="2.7" stroke-linecap="round" fill="none"/>
<path d="M1168 419.95V429.05M1163.58 421.95L1172.42 427.05M1172.42 421.95L1163.58 427.05" stroke="#000" stroke-width="2.7" stroke-linecap="round" fill="none"/>
<path d="M1189 419.95V429.05M1184.58 421.95L1193.42 427.05M1193.42 421.95L1184.58 427.05" stroke="#000" stroke-width="2.7" stroke-linecap="round" fill="none"/>
<path d="M1204.1 419.95V429.05M1199.68 421.95L1208.52 427.05M1208.52 421.95L1199.68 427.05" stroke="#000" stroke-width="2.7" stroke-linecap="round" fill="none"/>
<path d="M1219.2 419.95V429.05M1214.78 421.95L1223.62 427.05M1223.62 421.95L1214.78 427.05" stroke="#000" stroke-width="2.7" stroke-linecap="round" fill="none"/>
<path d="M1234.3 419.95V429.05M1229.88 421.95L1238.72 427.05M1238.72 421.95L1229.88 427.05" stroke="#000" stroke-width="2.7" stroke-linecap="round" fill="none"/>
<path d="M1137.8 455.45V464.55M1133.38 457.45L1142.22 462.55M1142.22 457.45L1133.38 462.55" stroke="#000" stroke-width="2.7" stroke-linecap="round" fill="none"/>
<path d="M1152.9 455.45V464.55M1148.48 457.45L1157.32 462.55M1157.32 457.45L1148.48 462.55" stroke="#000" stroke-width="2.7" stroke-linecap="round" fill="none"/>
<path d="M1211.65 455.45V464.55M1207.23 457.45L1216.07 462.55M1216.07 457.45L1207.23 462.55" stroke="#000" stroke-width="2.7" stroke-linecap="round" fill="none"/>
<text x="1211.65" y="498.9" font-size="22" font-weight="normal" text-anchor="middle" >ns</text>
<g id="panelC">
<line x1="149.3" y1="654.08" x2="149.3" y2="880.92" stroke="#000" stroke-width="1.85" />
<line x1="135" y1="880" x2="149.3" y2="880" stroke="#000" stroke-width="1.85" />
<text x="130.6" y="886.8" font-size="19" font-weight="normal" text-anchor="end" >-30</text>
<line x1="142.3" y1="861.25" x2="149.3" y2="861.25" stroke="#000" stroke-width="1.85" />
<line x1="135" y1="842.5" x2="149.3" y2="842.5" stroke="#000" stroke-width="1.85" />
<text x="130.6" y="849.3" font-size="19" font-weight="normal" text-anchor="end" >-20</text>
<line x1="142.3" y1="823.75" x2="149.3" y2="823.75" stroke="#000" stroke-width="1.85" />
<line x1="135" y1="805" x2="149.3" y2="805" stroke="#000" stroke-width="1.85" />
<text x="130.6" y="811.8" font-size="19" font-weight="normal" text-anchor="end" >-10</text>
<line x1="142.3" y1="786.25" x2="149.3" y2="786.25" stroke="#000" stroke-width="1.85" />
<line x1="135" y1="767.5" x2="149.3" y2="767.5" stroke="#000" stroke-width="1.85" />
<text x="130.6" y="774.3" font-size="19" font-weight="normal" text-anchor="end" >0</text>
<line x1="142.3" y1="748.75" x2="149.3" y2="748.75" stroke="#000" stroke-width="1.85" />
<line x1="135" y1="730" x2="149.3" y2="730" stroke="#000" stroke-width="1.85" />
<text x="130.6" y="736.8" font-size="19" font-weight="normal" text-anchor="end" >10</text>
<line x1="142.3" y1="711.25" x2="149.3" y2="711.25" stroke="#000" stroke-width="1.85" />
<line x1="135" y1="692.5" x2="149.3" y2="692.5" stroke="#000" stroke-width="1.85" />
<text x="130.6" y="699.3" font-size="19" font-weight="normal" text-anchor="end" >20</text>
<line x1="142.3" y1="673.75" x2="149.3" y2="673.75" stroke="#000" stroke-width="1.85" />
<line x1="135" y1="655" x2="149.3" y2="655" stroke="#000" stroke-width="1.85" />
<text x="130.6" y="661.8" font-size="19" font-weight="normal" text-anchor="end" >30</text>
<line x1="135" y1="880" x2="376" y2="880" stroke="#000" stroke-width="1.85" />
<line x1="183.7" y1="880" x2="183.7" y2="895" stroke="#000" stroke-width="1.85" />
<line x1="235.9" y1="880" x2="235.9" y2="895" stroke="#000" stroke-width="1.85" />
<line x1="287.9" y1="880" x2="287.9" y2="895" stroke="#000" stroke-width="1.85" />
<line x1="340" y1="880" x2="340" y2="895" stroke="#000" stroke-width="1.85" />
<line x1="155.72" y1="767.5" x2="376" y2="767.5" stroke="#000" stroke-width="2.11" stroke-dasharray="0 7.18" stroke-linecap="round"/>
<text transform="translate(85 765.5) rotate(-90)" font-size="19.7" font-weight="bold" text-anchor="middle">% weight change</text>
<text x="183.7" y="916.1" font-size="19.5" font-weight="bold" text-anchor="middle" >Saline</text>
<text x="235.9" y="916.1" font-size="19.5" font-weight="bold" text-anchor="middle" >RO</text>
<text x="287.9" y="916.1" font-size="19.5" font-weight="bold" text-anchor="middle" >FV</text>
<text x="340" y="916.1" font-size="19.5" font-weight="bold" text-anchor="middle" >ICV</text>
<circle cx="275.68" cy="737.09" r="3.75" fill="#f6f6f6" stroke="#a4a4a4" stroke-width="1"/>
<circle cx="290.27" cy="736.12" r="3.75" fill="#f6f6f6" stroke="#a4a4a4" stroke-width="1"/>
<circle cx="285.53" cy="741.04" r="3.75" fill="#f6f6f6" stroke="#a4a4a4" stroke-width="1"/>
<circle cx="290.27" cy="749.04" r="3.75" fill="#f6f6f6" stroke="#a4a4a4" stroke-width="1"/>
<circle cx="285.53" cy="752.82" r="3.75" fill="#f6f6f6" stroke="#a4a4a4" stroke-width="1"/>
<circle cx="294.76" cy="756.34" r="3.75" fill="#f6f6f6" stroke="#a4a4a4" stroke-width="1"/>
<circle cx="282.98" cy="775.32" r="3.75" fill="#f6f6f6" stroke="#a4a4a4" stroke-width="1"/>
<circle cx="292.82" cy="779.98" r="3.75" fill="#f6f6f6" stroke="#a4a4a4" stroke-width="1"/>
<circle cx="280.87" cy="745.96" r="3.75" fill="#cfcfcf" stroke="#a4a4a4" stroke-width="1"/>
<circle cx="280.87" cy="759.15" r="3.75" fill="#cfcfcf" stroke="#a4a4a4" stroke-width="1"/>
<circle cx="290.27" cy="763.37" r="3.75" fill="#cfcfcf" stroke="#a4a4a4" stroke-width="1"/>
<circle cx="287.9" cy="780.68" r="3.75" fill="#cfcfcf" stroke="#a4a4a4" stroke-width="1"/>
<circle cx="278.49" cy="784.46" r="3.75" fill="#cfcfcf" stroke="#a4a4a4" stroke-width="1"/>
<circle cx="297.31" cy="784.46" r="3.75" fill="#cfcfcf" stroke="#a4a4a4" stroke-width="1"/>
<line x1="183.7" y1="798.26" x2="183.7" y2="863.31" stroke="#9a9a9a" stroke-width="3.3" />
<line x1="175.3" y1="798.26" x2="192.1" y2="798.26" stroke="#9a9a9a" stroke-width="3.3" />
<line x1="175.3" y1="863.31" x2="192.1" y2="863.31" stroke="#9a9a9a" stroke-width="3.3" />
<line x1="166.5" y1="830.79" x2="200.9" y2="830.79" stroke="#9a9a9a" stroke-width="3.3" />
<line x1="235.9" y1="749.83" x2="235.9" y2="800.99" stroke="#000" stroke-width="3.3" />
<line x1="227.4" y1="749.83" x2="244.4" y2="749.83" stroke="#000" stroke-width="3.3" />
<line x1="227.4" y1="800.99" x2="244.4" y2="800.99" stroke="#000" stroke-width="3.3" />
<line x1="218.7" y1="775.41" x2="253.1" y2="775.41" stroke="#000" stroke-width="3.3" />
<line x1="287.9" y1="722.5" x2="287.9" y2="749.99" stroke="#000" stroke-width="3.3" />
<line x1="279.4" y1="722.5" x2="296.4" y2="722.5" stroke="#000" stroke-width="3.3" />
<line x1="279.4" y1="749.99" x2="296.4" y2="749.99" stroke="#000" stroke-width="3.3" />
<line x1="270.7" y1="736.38" x2="305.1" y2="736.38" stroke="#000" stroke-width="3.3" />
<line x1="340" y1="718.8" x2="340" y2="755.37" stroke="#000" stroke-width="3.3" />
<line x1="331.5" y1="718.8" x2="348.5" y2="718.8" stroke="#000" stroke-width="3.3" />
<line x1="331.5" y1="755.37" x2="348.5" y2="755.37" stroke="#000" stroke-width="3.3" />
<line x1="322.8" y1="737.09" x2="357.2" y2="737.09" stroke="#000" stroke-width="3.3" />
<path d="M183.7 775L189.3 780.6L183.7 786.2L178.1 780.6Z" fill="#cfcfcf" stroke="#a4a4a4" stroke-width="1"/>
<path d="M195.65 795.57L201.25 801.17L195.65 806.77L190.05 801.17Z" fill="#cfcfcf" stroke="#a4a4a4" stroke-width="1"/>
<path d="M171.66 802.42L177.26 808.02L171.66 813.62L166.06 808.02Z" fill="#cfcfcf" stroke="#a4a4a4" stroke-width="1"/>
<path d="M183.7 804.97L189.3 810.57L183.7 816.17L178.1 810.57Z" fill="#cfcfcf" stroke="#a4a4a4" stroke-width="1"/>
<path d="M171.66 829.85L177.26 835.45L171.66 841.05L166.06 835.45Z" fill="#cfcfcf" stroke="#a4a4a4" stroke-width="1"/>
<path d="M183.7 835.38L189.3 840.98L183.7 846.58L178.1 840.98Z" fill="#cfcfcf" stroke="#a4a4a4" stroke-width="1"/>
<path d="M171.66 862.9L177.26 868.5L171.66 874.1L166.06 868.5Z" fill="#cfcfcf" stroke="#a4a4a4" stroke-width="1"/>
<path d="M183.7 860.96L189.3 866.56L183.7 872.16L178.1 866.56Z" fill="#cfcfcf" stroke="#a4a4a4" stroke-width="1"/>
<path d="M195.65 861.23L201.25 866.83L195.65 872.43L190.05 866.83Z" fill="#cfcfcf" stroke="#a4a4a4" stroke-width="1"/>
<circle cx="238.71" cy="750.1" r="3.85" fill="#fcfcfc" stroke="#000" stroke-width="1.9"/>
<circle cx="248.21" cy="755.02" r="3.85" fill="#fcfcfc" stroke="#000" stroke-width="1.9"/>
<circle cx="223.95" cy="765.57" r="3.85" fill="#fcfcfc" stroke="#000" stroke-width="1.9"/>
<circle cx="247.85" cy="765.83" r="3.85" fill="#fcfcfc" stroke="#000" stroke-width="1.9"/>
<circle cx="238.36" cy="769.79" r="3.85" fill="#fcfcfc" stroke="#000" stroke-width="1.9"/>
<circle cx="228.78" cy="772.6" r="3.85" fill="#fcfcfc" stroke="#000" stroke-width="1.9"/>
<circle cx="243.37" cy="774.71" r="3.85" fill="#fcfcfc" stroke="#000" stroke-width="1.9"/>
<circle cx="243.37" cy="788.51" r="3.85" fill="#fcfcfc" stroke="#000" stroke-width="1.9"/>
<circle cx="228.78" cy="797.03" r="3.85" fill="#fcfcfc" stroke="#000" stroke-width="1.9"/>
<circle cx="247.85" cy="797.03" r="3.85" fill="#fcfcfc" stroke="#000" stroke-width="1.9"/>
<circle cx="238.45" cy="800.02" r="3.85" fill="#fcfcfc" stroke="#000" stroke-width="1.9"/>
<circle cx="233.53" cy="804.95" r="3.85" fill="#fcfcfc" stroke="#000" stroke-width="1.9"/>
<circle cx="238.36" cy="813.65" r="3.85" fill="#fcfcfc" stroke="#000" stroke-width="1.9"/>
<circle cx="235.9" cy="843.62" r="3.85" fill="#fcfcfc" stroke="#000" stroke-width="1.9"/>
<circle cx="233.7" cy="732.96" r="3.85" fill="#808080" stroke="#000" stroke-width="1.9"/>
<circle cx="243.37" cy="743.06" r="3.85" fill="#808080" stroke="#000" stroke-width="1.9"/>
<circle cx="228.78" cy="747.99" r="3.85" fill="#808080" stroke="#000" stroke-width="1.9"/>
<circle cx="233.53" cy="749.66" r="3.85" fill="#808080" stroke="#000" stroke-width="1.9"/>
<circle cx="223.95" cy="753.61" r="3.85" fill="#808080" stroke="#000" stroke-width="1.9"/>
<circle cx="243.37" cy="755.28" r="3.85" fill="#808080" stroke="#000" stroke-width="1.9"/>
<circle cx="228.78" cy="761.61" r="3.85" fill="#808080" stroke="#000" stroke-width="1.9"/>
<circle cx="233.53" cy="761.61" r="3.85" fill="#808080" stroke="#000" stroke-width="1.9"/>
<circle cx="238.89" cy="781.04" r="3.85" fill="#808080" stroke="#000" stroke-width="1.9"/>
<circle cx="233.53" cy="781.3" r="3.85" fill="#808080" stroke="#000" stroke-width="1.9"/>
<circle cx="228.52" cy="785.26" r="3.85" fill="#808080" stroke="#000" stroke-width="1.9"/>
<circle cx="243.11" cy="803.8" r="3.85" fill="#808080" stroke="#000" stroke-width="1.9"/>
<circle cx="285.53" cy="720.47" r="3.85" fill="#fcfcfc" stroke="#000" stroke-width="1.9"/>
<circle cx="280.87" cy="726.8" r="3.85" fill="#fcfcfc" stroke="#000" stroke-width="1.9"/>
<circle cx="299.85" cy="732.16" r="3.85" fill="#fcfcfc" stroke="#000" stroke-width="1.9"/>
<circle cx="295.11" cy="736.65" r="3.85" fill="#fcfcfc" stroke="#000" stroke-width="1.9"/>
<circle cx="275.68" cy="753.26" r="3.85" fill="#808080" stroke="#000" stroke-width="1.9"/>
<circle cx="299.85" cy="754.67" r="3.85" fill="#808080" stroke="#000" stroke-width="1.9"/>
<circle cx="340" cy="695.6" r="3.85" fill="#fcfcfc" stroke="#000" stroke-width="1.9"/>
<circle cx="337.63" cy="705.88" r="3.85" fill="#fcfcfc" stroke="#000" stroke-width="1.9"/>
<circle cx="332.7" cy="728.65" r="3.85" fill="#fcfcfc" stroke="#000" stroke-width="1.9"/>
<circle cx="342.46" cy="727.68" r="3.85" fill="#fcfcfc" stroke="#000" stroke-width="1.9"/>
<circle cx="347.03" cy="732.16" r="3.85" fill="#fcfcfc" stroke="#000" stroke-width="1.9"/>
<circle cx="351.95" cy="730.76" r="3.85" fill="#fcfcfc" stroke="#000" stroke-width="1.9"/>
<circle cx="337.63" cy="739.46" r="3.85" fill="#fcfcfc" stroke="#000" stroke-width="1.9"/>
<circle cx="342.46" cy="739.2" r="3.85" fill="#fcfcfc" stroke="#000" stroke-width="1.9"/>
<circle cx="332.7" cy="747.2" r="3.85" fill="#fcfcfc" stroke="#000" stroke-width="1.9"/>
<circle cx="347.03" cy="754.67" r="3.85" fill="#fcfcfc" stroke="#000" stroke-width="1.9"/>
<circle cx="342.46" cy="763.37" r="3.85" fill="#fcfcfc" stroke="#000" stroke-width="1.9"/>
<circle cx="342.46" cy="712.47" r="3.85" fill="#808080" stroke="#000" stroke-width="1.9"/>
<circle cx="340" cy="720.47" r="3.85" fill="#808080" stroke="#000" stroke-width="1.9"/>
<circle cx="337.63" cy="728.21" r="3.85" fill="#808080" stroke="#000" stroke-width="1.9"/>
<circle cx="327.96" cy="731.72" r="3.85" fill="#808080" stroke="#000" stroke-width="1.9"/>
<circle cx="332.7" cy="740.34" r="3.85" fill="#808080" stroke="#000" stroke-width="1.9"/>
<circle cx="347.03" cy="740.16" r="3.85" fill="#808080" stroke="#000" stroke-width="1.9"/>
<circle cx="342.46" cy="748.6" r="3.85" fill="#808080" stroke="#000" stroke-width="1.9"/>
<circle cx="327.96" cy="750.71" r="3.85" fill="#808080" stroke="#000" stroke-width="1.9"/>
<circle cx="351.95" cy="754.23" r="3.85" fill="#808080" stroke="#000" stroke-width="1.9"/>
<circle cx="337.63" cy="756.34" r="3.85" fill="#808080" stroke="#000" stroke-width="1.9"/>
<circle cx="337.63" cy="768.03" r="3.85" fill="#808080" stroke="#000" stroke-width="1.9"/>
<text x="287.9" y="939.3" font-size="19.5" font-weight="bold" text-anchor="middle" >(high</text>
<text x="287.9" y="962.5" font-size="19.5" font-weight="bold" text-anchor="middle" >CNV)</text>
<path d="M253.4 632.3V640.7M249.55 634.27L257.25 638.73M257.25 634.27L249.55 638.73" stroke="#000" stroke-width="2.1" stroke-linecap="round" fill="none"/>
<path d="M267.7 632.3V640.7M263.85 634.27L271.55 638.73M271.55 634.27L263.85 638.73" stroke="#000" stroke-width="2.1" stroke-linecap="round" fill="none"/>
<text x="315.5" y="641.2" font-size="19.3" font-weight="normal" text-anchor="middle" >ns</text>
<path d="M238.95 669.5V655.55H283.55V669.5" stroke="#000" stroke-width="3.5" fill="none" stroke-linejoin="miter"/>
<path d="M293.25 669.5V655.55H337.15V669.5" stroke="#000" stroke-width="3.5" fill="none" stroke-linejoin="miter"/>
</g>
<g id="panelD">
<line x1="614" y1="654.08" x2="614" y2="880.92" stroke="#000" stroke-width="1.85" />
<line x1="599.7" y1="880" x2="614" y2="880" stroke="#000" stroke-width="1.85" />
<text x="595.3" y="886.8" font-size="19" font-weight="normal" text-anchor="end" >-30</text>
<line x1="607" y1="861.25" x2="614" y2="861.25" stroke="#000" stroke-width="1.85" />
<line x1="599.7" y1="842.5" x2="614" y2="842.5" stroke="#000" stroke-width="1.85" />
<text x="595.3" y="849.3" font-size="19" font-weight="normal" text-anchor="end" >-20</text>
<line x1="607" y1="823.75" x2="614" y2="823.75" stroke="#000" stroke-width="1.85" />
<line x1="599.7" y1="805" x2="614" y2="805" stroke="#000" stroke-width="1.85" />
<text x="595.3" y="811.8" font-size="19" font-weight="normal" text-anchor="end" >-10</text>
<line x1="607" y1="786.25" x2="614" y2="786.25" stroke="#000" stroke-width="1.85" />
<line x1="599.7" y1="767.5" x2="614" y2="767.5" stroke="#000" stroke-width="1.85" />
<text x="595.3" y="774.3" font-size="19" font-weight="normal" text-anchor="end" >0</text>
<line x1="607" y1="748.75" x2="614" y2="748.75" stroke="#000" stroke-width="1.85" />
<line x1="599.7" y1="730" x2="614" y2="730" stroke="#000" stroke-width="1.85" />
<text x="595.3" y="736.8" font-size="19" font-weight="normal" text-anchor="end" >10</text>
<line x1="607" y1="711.25" x2="614" y2="711.25" stroke="#000" stroke-width="1.85" />
<line x1="599.7" y1="692.5" x2="614" y2="692.5" stroke="#000" stroke-width="1.85" />
<text x="595.3" y="699.3" font-size="19" font-weight="normal" text-anchor="end" >20</text>
<line x1="607" y1="673.75" x2="614" y2="673.75" stroke="#000" stroke-width="1.85" />
<line x1="599.7" y1="655" x2="614" y2="655" stroke="#000" stroke-width="1.85" />
<text x="595.3" y="661.8" font-size="19" font-weight="normal" text-anchor="end" >30</text>
<line x1="599.7" y1="880" x2="841" y2="880" stroke="#000" stroke-width="1.85" />
<line x1="648.75" y1="880" x2="648.75" y2="895" stroke="#000" stroke-width="1.85" />
<line x1="701" y1="880" x2="701" y2="895" stroke="#000" stroke-width="1.85" />
<line x1="753" y1="880" x2="753" y2="895" stroke="#000" stroke-width="1.85" />
<line x1="804.75" y1="880" x2="804.75" y2="895" stroke="#000" stroke-width="1.85" />
<line x1="620.42" y1="767.5" x2="841" y2="767.5" stroke="#000" stroke-width="2.11" stroke-dasharray="0 7.18" stroke-linecap="round"/>
<text transform="translate(549.8 765.5) rotate(-90)" font-size="19.7" font-weight="bold" text-anchor="middle">% weight change</text>
<text x="648.75" y="916.1" font-size="19.5" font-weight="bold" text-anchor="middle" >Saline</text>
<text x="701" y="916.1" font-size="19.5" font-weight="bold" text-anchor="middle" >RO</text>
<text x="753" y="916.1" font-size="19.5" font-weight="bold" text-anchor="middle" >FV</text>
<text x="804.75" y="916.1" font-size="19.5" font-weight="bold" text-anchor="middle" >ICV</text>
<circle cx="750.63" cy="720.47" r="3.75" fill="#f6f6f6" stroke="#a4a4a4" stroke-width="1"/>
<circle cx="745.97" cy="726.8" r="3.75" fill="#f6f6f6" stroke="#a4a4a4" stroke-width="1"/>
<circle cx="764.95" cy="732.16" r="3.75" fill="#f6f6f6" stroke="#a4a4a4" stroke-width="1"/>
<circle cx="760.21" cy="736.65" r="3.75" fill="#f6f6f6" stroke="#a4a4a4" stroke-width="1"/>
<circle cx="740.78" cy="753.26" r="3.75" fill="#cfcfcf" stroke="#a4a4a4" stroke-width="1"/>
<circle cx="764.95" cy="754.67" r="3.75" fill="#cfcfcf" stroke="#a4a4a4" stroke-width="1"/>
<line x1="648.75" y1="798.26" x2="648.75" y2="863.31" stroke="#9a9a9a" stroke-width="3.3" />
<line x1="640.35" y1="798.26" x2="657.15" y2="798.26" stroke="#9a9a9a" stroke-width="3.3" />
<line x1="640.35" y1="863.31" x2="657.15" y2="863.31" stroke="#9a9a9a" stroke-width="3.3" />
<line x1="631.55" y1="830.79" x2="665.95" y2="830.79" stroke="#9a9a9a" stroke-width="3.3" />
<line x1="701" y1="749.83" x2="701" y2="800.99" stroke="#000" stroke-width="3.3" />
<line x1="692.5" y1="749.83" x2="709.5" y2="749.83" stroke="#000" stroke-width="3.3" />
<line x1="692.5" y1="800.99" x2="709.5" y2="800.99" stroke="#000" stroke-width="3.3" />
<line x1="683.8" y1="775.41" x2="718.2" y2="775.41" stroke="#000" stroke-width="3.3" />
<line x1="753" y1="742" x2="753" y2="778.38" stroke="#000" stroke-width="3.3" />
<line x1="744.5" y1="742" x2="761.5" y2="742" stroke="#000" stroke-width="3.3" />
<line x1="744.5" y1="778.38" x2="761.5" y2="778.38" stroke="#000" stroke-width="3.3" />
<line x1="735.8" y1="760" x2="770.2" y2="760" stroke="#000" stroke-width="3.3" />
<line x1="804.75" y1="718.8" x2="804.75" y2="755.37" stroke="#000" stroke-width="3.3" />
<line x1="796.25" y1="718.8" x2="813.25" y2="718.8" stroke="#000" stroke-width="3.3" />
<line x1="796.25" y1="755.37" x2="813.25" y2="755.37" stroke="#000" stroke-width="3.3" />
<line x1="787.55" y1="737.09" x2="821.95" y2="737.09" stroke="#000" stroke-width="3.3" />
<path d="M648.75 775L654.35 780.6L648.75 786.2L643.15 780.6Z" fill="#cfcfcf" stroke="#a4a4a4" stroke-width="1"/>
<path d="M660.7 795.57L666.3 801.17L660.7 806.77L655.1 801.17Z" fill="#cfcfcf" stroke="#a4a4a4" stroke-width="1"/>
<path d="M636.71 802.42L642.31 808.02L636.71 813.62L631.11 808.02Z" fill="#cfcfcf" stroke="#a4a4a4" stroke-width="1"/>
<path d="M648.75 804.97L654.35 810.57L648.75 816.17L643.15 810.57Z" fill="#cfcfcf" stroke="#a4a4a4" stroke-width="1"/>
<path d="M636.71 829.85L642.31 835.45L636.71 841.05L631.11 835.45Z" fill="#cfcfcf" stroke="#a4a4a4" stroke-width="1"/>
<path d="M648.75 835.38L654.35 840.98L648.75 846.58L643.15 840.98Z" fill="#cfcfcf" stroke="#a4a4a4" stroke-width="1"/>
<path d="M636.71 862.9L642.31 868.5L636.71 874.1L631.11 868.5Z" fill="#cfcfcf" stroke="#a4a4a4" stroke-width="1"/>
<path d="M648.75 860.96L654.35 866.56L648.75 872.16L643.15 866.56Z" fill="#cfcfcf" stroke="#a4a4a4" stroke-width="1"/>
<path d="M660.7 861.23L666.3 866.83L660.7 872.43L655.1 866.83Z" fill="#cfcfcf" stroke="#a4a4a4" stroke-width="1"/>
<circle cx="703.81" cy="750.1" r="3.85" fill="#fcfcfc" stroke="#000" stroke-width="1.9"/>
<circle cx="713.31" cy="755.02" r="3.85" fill="#fcfcfc" stroke="#000" stroke-width="1.9"/>
<circle cx="689.05" cy="765.57" r="3.85" fill="#fcfcfc" stroke="#000" stroke-width="1.9"/>
<circle cx="712.95" cy="765.83" r="3.85" fill="#fcfcfc" stroke="#000" stroke-width="1.9"/>
<circle cx="703.46" cy="769.79" r="3.85" fill="#fcfcfc" stroke="#000" stroke-width="1.9"/>
<circle cx="693.88" cy="772.6" r="3.85" fill="#fcfcfc" stroke="#000" stroke-width="1.9"/>
<circle cx="708.47" cy="774.71" r="3.85" fill="#fcfcfc" stroke="#000" stroke-width="1.9"/>
<circle cx="708.47" cy="788.51" r="3.85" fill="#fcfcfc" stroke="#000" stroke-width="1.9"/>
<circle cx="693.88" cy="797.03" r="3.85" fill="#fcfcfc" stroke="#000" stroke-width="1.9"/>
<circle cx="712.95" cy="797.03" r="3.85" fill="#fcfcfc" stroke="#000" stroke-width="1.9"/>
<circle cx="703.55" cy="800.02" r="3.85" fill="#fcfcfc" stroke="#000" stroke-width="1.9"/>
<circle cx="698.63" cy="804.95" r="3.85" fill="#fcfcfc" stroke="#000" stroke-width="1.9"/>
<circle cx="703.46" cy="813.65" r="3.85" fill="#fcfcfc" stroke="#000" stroke-width="1.9"/>
<circle cx="701" cy="843.62" r="3.85" fill="#fcfcfc" stroke="#000" stroke-width="1.9"/>
<circle cx="698.8" cy="732.96" r="3.85" fill="#808080" stroke="#000" stroke-width="1.9"/>
<circle cx="708.47" cy="743.06" r="3.85" fill="#808080" stroke="#000" stroke-width="1.9"/>
<circle cx="693.88" cy="747.99" r="3.85" fill="#808080" stroke="#000" stroke-width="1.9"/>
<circle cx="698.63" cy="749.66" r="3.85" fill="#808080" stroke="#000" stroke-width="1.9"/>
<circle cx="689.05" cy="753.61" r="3.85" fill="#808080" stroke="#000" stroke-width="1.9"/>
<circle cx="708.47" cy="755.28" r="3.85" fill="#808080" stroke="#000" stroke-width="1.9"/>
<circle cx="693.88" cy="761.61" r="3.85" fill="#808080" stroke="#000" stroke-width="1.9"/>
<circle cx="698.63" cy="761.61" r="3.85" fill="#808080" stroke="#000" stroke-width="1.9"/>
<circle cx="703.99" cy="781.04" r="3.85" fill="#808080" stroke="#000" stroke-width="1.9"/>
<circle cx="698.63" cy="781.3" r="3.85" fill="#808080" stroke="#000" stroke-width="1.9"/>
<circle cx="693.62" cy="785.26" r="3.85" fill="#808080" stroke="#000" stroke-width="1.9"/>
<circle cx="708.21" cy="803.8" r="3.85" fill="#808080" stroke="#000" stroke-width="1.9"/>
<circle cx="740.78" cy="737.09" r="3.85" fill="#fcfcfc" stroke="#000" stroke-width="1.9"/>
<circle cx="755.37" cy="736.12" r="3.85" fill="#fcfcfc" stroke="#000" stroke-width="1.9"/>
<circle cx="750.63" cy="741.04" r="3.85" fill="#fcfcfc" stroke="#000" stroke-width="1.9"/>
<circle cx="755.37" cy="749.04" r="3.85" fill="#fcfcfc" stroke="#000" stroke-width="1.9"/>
<circle cx="750.63" cy="752.82" r="3.85" fill="#fcfcfc" stroke="#000" stroke-width="1.9"/>
<circle cx="759.86" cy="756.34" r="3.85" fill="#fcfcfc" stroke="#000" stroke-width="1.9"/>
<circle cx="748.08" cy="775.32" r="3.85" fill="#fcfcfc" stroke="#000" stroke-width="1.9"/>
<circle cx="757.92" cy="779.98" r="3.85" fill="#fcfcfc" stroke="#000" stroke-width="1.9"/>
<circle cx="745.97" cy="745.96" r="3.85" fill="#808080" stroke="#000" stroke-width="1.9"/>
<circle cx="745.97" cy="759.15" r="3.85" fill="#808080" stroke="#000" stroke-width="1.9"/>
<circle cx="755.37" cy="763.37" r="3.85" fill="#808080" stroke="#000" stroke-width="1.9"/>
<circle cx="753" cy="780.68" r="3.85" fill="#808080" stroke="#000" stroke-width="1.9"/>
<circle cx="743.59" cy="784.46" r="3.85" fill="#808080" stroke="#000" stroke-width="1.9"/>
<circle cx="762.41" cy="784.46" r="3.85" fill="#808080" stroke="#000" stroke-width="1.9"/>
<circle cx="804.75" cy="695.6" r="3.85" fill="#fcfcfc" stroke="#000" stroke-width="1.9"/>
<circle cx="802.38" cy="705.88" r="3.85" fill="#fcfcfc" stroke="#000" stroke-width="1.9"/>
<circle cx="797.45" cy="728.65" r="3.85" fill="#fcfcfc" stroke="#000" stroke-width="1.9"/>
<circle cx="807.21" cy="727.68" r="3.85" fill="#fcfcfc" stroke="#000" stroke-width="1.9"/>
<circle cx="811.78" cy="732.16" r="3.85" fill="#fcfcfc" stroke="#000" stroke-width="1.9"/>
<circle cx="816.7" cy="730.76" r="3.85" fill="#fcfcfc" stroke="#000" stroke-width="1.9"/>
<circle cx="802.38" cy="739.46" r="3.85" fill="#fcfcfc" stroke="#000" stroke-width="1.9"/>
<circle cx="807.21" cy="739.2" r="3.85" fill="#fcfcfc" stroke="#000" stroke-width="1.9"/>
<circle cx="797.45" cy="747.2" r="3.85" fill="#fcfcfc" stroke="#000" stroke-width="1.9"/>
<circle cx="811.78" cy="754.67" r="3.85" fill="#fcfcfc" stroke="#000" stroke-width="1.9"/>
<circle cx="807.21" cy="763.37" r="3.85" fill="#fcfcfc" stroke="#000" stroke-width="1.9"/>
<circle cx="807.21" cy="712.47" r="3.85" fill="#808080" stroke="#000" stroke-width="1.9"/>
<circle cx="804.75" cy="720.47" r="3.85" fill="#808080" stroke="#000" stroke-width="1.9"/>
<circle cx="802.38" cy="728.21" r="3.85" fill="#808080" stroke="#000" stroke-width="1.9"/>
<circle cx="792.71" cy="731.72" r="3.85" fill="#808080" stroke="#000" stroke-width="1.9"/>
<circle cx="797.45" cy="740.34" r="3.85" fill="#808080" stroke="#000" stroke-width="1.9"/>
<circle cx="811.78" cy="740.16" r="3.85" fill="#808080" stroke="#000" stroke-width="1.9"/>
<circle cx="807.21" cy="748.6" r="3.85" fill="#808080" stroke="#000" stroke-width="1.9"/>
<circle cx="792.71" cy="750.71" r="3.85" fill="#808080" stroke="#000" stroke-width="1.9"/>
<circle cx="816.7" cy="754.23" r="3.85" fill="#808080" stroke="#000" stroke-width="1.9"/>
<circle cx="802.38" cy="756.34" r="3.85" fill="#808080" stroke="#000" stroke-width="1.9"/>
<circle cx="802.38" cy="768.03" r="3.85" fill="#808080" stroke="#000" stroke-width="1.9"/>
<text x="753" y="939.3" font-size="19.5" font-weight="bold" text-anchor="middle" >(low</text>
<text x="753" y="962.5" font-size="19.5" font-weight="bold" text-anchor="middle" >CNV)</text>
<path d="M771.8 632.3V640.7M767.95 634.27L775.65 638.73M775.65 634.27L767.95 638.73" stroke="#000" stroke-width="2.1" stroke-linecap="round" fill="none"/>
<path d="M786.1 632.3V640.7M782.25 634.27L789.95 638.73M789.95 634.27L782.25 638.73" stroke="#000" stroke-width="2.1" stroke-linecap="round" fill="none"/>
<text x="726" y="641.2" font-size="19.3" font-weight="normal" text-anchor="middle" >ns</text>
<path d="M703.95 669.5V655.55H748.55V669.5" stroke="#000" stroke-width="3.5" fill="none" stroke-linejoin="miter"/>
<path d="M758.25 669.5V655.55H802.15V669.5" stroke="#000" stroke-width="3.5" fill="none" stroke-linejoin="miter"/>
</g>
</svg></body></html>
